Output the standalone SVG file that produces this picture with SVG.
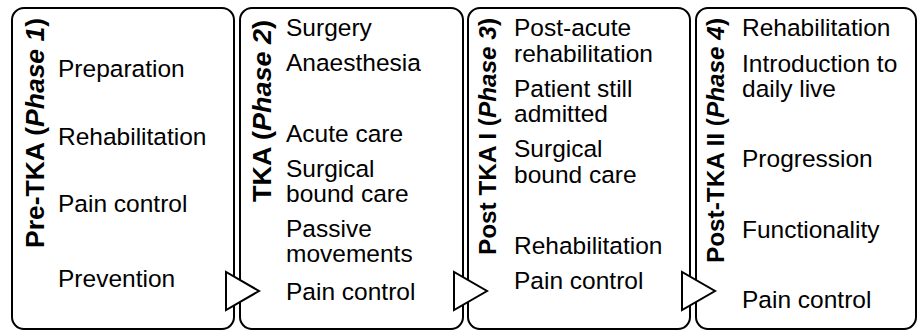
<svg xmlns="http://www.w3.org/2000/svg" width="917" height="332" viewBox="0 0 917 332">
<style>
.box{fill:#fff;stroke:#000;stroke-width:2}
.arr{fill:#fff;stroke:#000;stroke-width:2;stroke-linejoin:miter}
.t{font-family:"Liberation Sans",Arial,sans-serif;font-size:24.5px;fill:#000}
.ttl{font-family:"Liberation Sans",Arial,sans-serif;font-size:24.5px;font-weight:bold;fill:#000}
.big{font-size:25.5px}
.it{font-style:italic}
</style>
<rect width="917" height="332" fill="#fff"/>
<g id="phase1">
<rect class="box" x="12" y="8" width="222" height="321" rx="12"/>
<text class="ttl big" transform="translate(44,248) rotate(-90)" textLength="230" lengthAdjust="spacingAndGlyphs">Pre-TKA (<tspan class="it">Phase 1</tspan>)</text>
<text class="t" x="58" y="77">Preparation</text>
<text class="t" x="58" y="145">Rehabilitation</text>
<text class="t" x="58" y="212">Pain control</text>
<text class="t" x="58" y="287">Prevention</text>
</g>
<g id="phase2">
<rect class="box" x="240" y="8" width="223" height="321" rx="12"/>
<text class="ttl big" transform="translate(271,202) rotate(-90)" textLength="182" lengthAdjust="spacingAndGlyphs">TKA (<tspan class="it">Phase 2</tspan>)</text>
<text class="t" x="286" y="36">Surgery</text>
<text class="t" x="286" y="71">Anaesthesia</text>
<text class="t" x="286" y="142">Acute care</text>
<text class="t" x="286" y="177">Surgical</text>
<text class="t" x="286" y="202">bound care</text>
<text class="t" x="286" y="237">Passive</text>
<text class="t" x="286" y="262">movements</text>
<text class="t" x="286" y="300">Pain control</text>
</g>
<g id="phase3">
<rect class="box" x="468" y="8" width="222" height="321" rx="12"/>
<text class="ttl" transform="translate(496,255) rotate(-90)" textLength="237" lengthAdjust="spacingAndGlyphs">Post TKA I (<tspan class="it">Phase 3</tspan>)</text>
<text class="t" x="514" y="36">Post-acute</text>
<text class="t" x="514" y="62">rehabilitation</text>
<text class="t" x="514" y="97">Patient still</text>
<text class="t" x="514" y="122">admitted</text>
<text class="t" x="514" y="157">Surgical</text>
<text class="t" x="514" y="183">bound care</text>
<text class="t" x="514" y="254">Rehabilitation</text>
<text class="t" x="514" y="289">Pain control</text>
</g>
<g id="phase4">
<rect class="box" x="696" y="8" width="220" height="321" rx="12"/>
<text class="ttl" transform="translate(724,263) rotate(-90)" textLength="245" lengthAdjust="spacingAndGlyphs">Post-TKA II (<tspan class="it">Phase 4</tspan>)</text>
<text class="t" x="742" y="36">Rehabilitation</text>
<text class="t" x="742" y="72">Introduction to</text>
<text class="t" x="742" y="97">daily live</text>
<text class="t" x="742" y="167">Progression</text>
<text class="t" x="742" y="238">Functionality</text>
<text class="t" x="742" y="308">Pain control</text>
</g>
<g id="connectors">
<polygon class="arr" points="226,272 226,310 259,291"/>
<polygon class="arr" points="454,272 454,310 487,291"/>
<polygon class="arr" points="682,272 682,310 715,291"/>
</g>
</svg>
